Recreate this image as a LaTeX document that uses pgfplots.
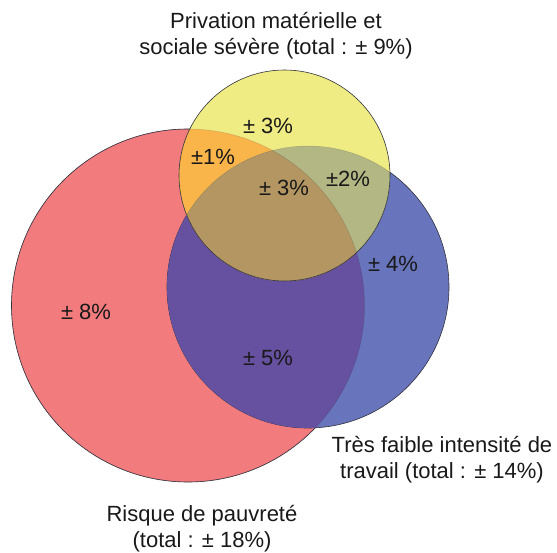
\documentclass[border=0pt]{standalone}
\usepackage{pgfplots}
\pgfplotsset{compat=1.18}
\usepackage{pgfplotstable}
\usepackage{fontspec}
\setmainfont{Liberation Sans}
\definecolor{cRed}{RGB}{242,123,126}
\definecolor{cBlue}{RGB}{104,117,188}
\definecolor{cYellow}{RGB}{240,236,132}
\definecolor{cRB}{RGB}{102,80,160}
\definecolor{cRY}{RGB}{249,181,74}
\definecolor{cBY}{RGB}{178,183,131}
\definecolor{cRBY}{RGB}{179,150,98}
\definecolor{cLine}{RGB}{50,50,60}
% circles: centre x, centre y (pixels from top), radius
\pgfplotstableread{
name cx cy r
red 188 305.5 176.5
blue 308 287 141
yellow 284.5 175.5 105.5
}\circles
\pgfplotstablegetelem{0}{cx}\of\circles \let\rcx\pgfplotsretval
\pgfplotstablegetelem{0}{cy}\of\circles \let\rcy\pgfplotsretval
\pgfplotstablegetelem{0}{r}\of\circles  \let\rcr\pgfplotsretval
\pgfplotstablegetelem{1}{cx}\of\circles \let\bcx\pgfplotsretval
\pgfplotstablegetelem{1}{cy}\of\circles \let\bcy\pgfplotsretval
\pgfplotstablegetelem{1}{r}\of\circles  \let\bcr\pgfplotsretval
\pgfplotstablegetelem{2}{cx}\of\circles \let\ycx\pgfplotsretval
\pgfplotstablegetelem{2}{cy}\of\circles \let\ycy\pgfplotsretval
\pgfplotstablegetelem{2}{r}\of\circles  \let\ycr\pgfplotsretval
\begin{document}
\begin{tikzpicture}
\begin{axis}[
  x=1pt, y=1pt, y dir=reverse,
  xmin=0, xmax=557, ymin=0, ymax=551,
  axis line style={draw=none}, xtick=\empty, ytick=\empty,
  clip=false,
]
\def\RED{(axis cs:\rcx,\rcy) circle [radius=\rcr]}
\def\BLUE{(axis cs:\bcx,\bcy) circle [radius=\bcr]}
\def\YEL{(axis cs:\ycx,\ycy) circle [radius=\ycr]}
% red
\fill[cRed] \RED;
\draw[cLine, line width=0.6pt] \RED;
% blue
\fill[cBlue] \BLUE;
\draw[cLine, line width=0.6pt] \BLUE;
\begin{scope}
  \clip \RED;
  \fill[cRB] \BLUE;
\end{scope}
\draw[cLine, line width=0.5pt, opacity=0.25] \RED;
% yellow
\fill[cYellow] \YEL;
\begin{scope}
  \clip \YEL;
  \fill[cRY] \RED;
  \fill[cBY] \BLUE;
  \clip \RED;
  \fill[cRBY] \BLUE;
\end{scope}
\begin{scope}
  \clip \YEL;
  \draw[cLine, line width=0.5pt, opacity=0.2] \RED;
  \draw[cLine, line width=0.5pt, opacity=0.2] \BLUE;
\end{scope}
\draw[cLine, line width=0.6pt] \YEL;
% labels
\begin{scope}[every node/.style={font=\fontsize{22}{26}\selectfont, text=black!90, inner sep=0pt}]
\node at (axis cs:86,312) {± 8\%};
\node at (axis cs:268,126) {± 3\%};
\node at (axis cs:213,157) {±1\%};
\node at (axis cs:284,188) {± 3\%};
\node at (axis cs:348,179) {±2\%};
\node at (axis cs:393,264) {± 4\%};
\node at (axis cs:268,358) {± 5\%};
\node[align=center] at (axis cs:276,36) {Privation matérielle et\\sociale sévère (total : ± 9\%)};
\node[align=center] at (axis cs:442,460) {Très faible intensité de\\travail (total : ± 14\%)};
\node[align=center] at (axis cs:202,529) {Risque de pauvreté\\(total : ± 18\%)};
\end{scope}
\end{axis}
\end{tikzpicture}
\end{document}
